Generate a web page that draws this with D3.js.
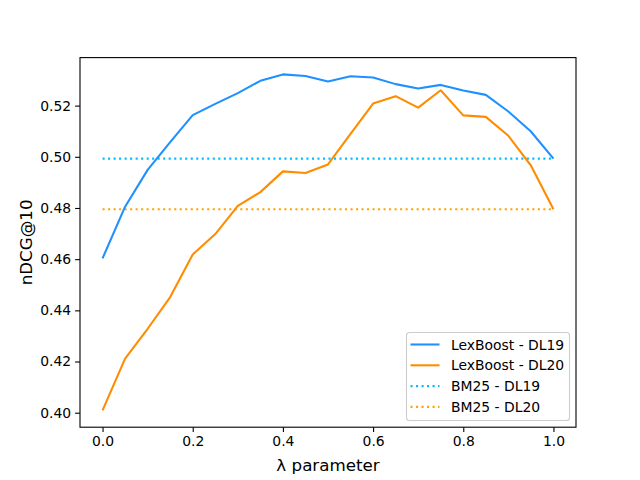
<!DOCTYPE html>
<html>
<head>
<meta charset="utf-8">
<script src="https://cdn.jsdelivr.net/npm/d3@7"></script>
<style>
  body { margin: 0; background: #fff; }
  svg { font-family: "DejaVu Sans", sans-serif; }
</style>
</head>
<body>
<div id="chart"></div>
<script>
const lambdas = [0, 0.05, 0.1, 0.15, 0.2, 0.25, 0.3, 0.35, 0.4, 0.45, 0.5,
                 0.55, 0.6, 0.65, 0.7, 0.75, 0.8, 0.85, 0.9, 0.95, 1.0];
const lexDL19 = [0.4603, 0.4805, 0.4949, 0.5057, 0.5163, 0.5207, 0.5249, 0.5297, 0.5322, 0.5316, 0.5294,
                 0.5315, 0.5310, 0.5284, 0.5267, 0.5281, 0.5259, 0.5242, 0.5177, 0.5099, 0.4993];
const lexDL20 = [0.4009, 0.4211, 0.4328, 0.4452, 0.4618, 0.4698, 0.4808, 0.4862, 0.4943, 0.4937, 0.4970,
                 0.5090, 0.5208, 0.5237, 0.5192, 0.5260, 0.5162, 0.5156, 0.5082, 0.4966, 0.4795];
const bm25DL19 = 0.4993;
const bm25DL20 = 0.4795;
const xTicks = [0, 0.2, 0.4, 0.6, 0.8, 1.0];
const yTicks = [0.40, 0.42, 0.44, 0.46, 0.48, 0.50, 0.52];

const W = 640, H = 480;
const margin = { top: 57.6, right: 64, bottom: 52.8, left: 80 };
const width = W - margin.left - margin.right;
const height = H - margin.top - margin.bottom;
const lw = 2.08;          // 1.5pt
const dots = '2.08,3.43'; // matplotlib ':'

const svg = d3.select('#chart').append('svg')
  .attr('width', W).attr('height', H);
const g = svg.append('g')
  .attr('transform', `translate(${margin.left},${margin.top})`);

// scales with matplotlib-like 5% padding
const xPad = 0.05 * (d3.max(lambdas) - d3.min(lambdas));
const x = d3.scaleLinear()
  .domain([d3.min(lambdas) - xPad, d3.max(lambdas) + xPad])
  .range([0, width]);
const allY = lexDL19.concat(lexDL20);
const yMin = d3.min(allY), yMax = d3.max(allY);
const yPad = 0.05 * (yMax - yMin);
const y = d3.scaleLinear()
  .domain([yMin - yPad, yMax + yPad])
  .range([height, 0]);

// axes
const xAxis = g.append('g')
  .attr('transform', `translate(0,${height})`)
  .call(d3.axisBottom(x).tickValues(xTicks).tickFormat(d3.format('.1f')).tickSizeOuter(0).tickSize(4.9).tickPadding(4));
const yAxis = g.append('g')
  .call(d3.axisLeft(y).tickValues(yTicks).tickFormat(d3.format('.2f')).tickSizeOuter(0).tickSize(4.9).tickPadding(4));
[xAxis, yAxis].forEach(a => {
  a.select('.domain').remove();
  a.selectAll('text').attr('font-size', 13.9).attr('fill', '#000')
    .attr('font-family', '"DejaVu Sans", sans-serif');
  a.selectAll('line').attr('stroke', '#000').attr('stroke-width', 1.1);
});

const line = d3.line().x((d, i) => x(lambdas[i])).y(d => y(d));

// baselines
g.append('line')
  .attr('x1', x(lambdas[0])).attr('x2', x(lambdas[lambdas.length - 1]))
  .attr('y1', y(bm25DL19)).attr('y2', y(bm25DL19))
  .attr('stroke', '#00BFFF').attr('stroke-width', lw).attr('stroke-dasharray', dots);
g.append('line')
  .attr('x1', x(lambdas[0])).attr('x2', x(lambdas[lambdas.length - 1]))
  .attr('y1', y(bm25DL20)).attr('y2', y(bm25DL20))
  .attr('stroke', '#FFA500').attr('stroke-width', lw).attr('stroke-dasharray', dots);

// LexBoost lines
g.append('path').datum(lexDL19).attr('d', line)
  .attr('fill', 'none').attr('stroke', '#1E90FF').attr('stroke-width', lw).attr('stroke-linejoin', 'round');
g.append('path').datum(lexDL20).attr('d', line)
  .attr('fill', 'none').attr('stroke', '#FF8C00').attr('stroke-width', lw).attr('stroke-linejoin', 'round');

// frame
g.append('rect').attr('width', width).attr('height', height)
  .attr('fill', 'none').attr('stroke', '#000').attr('stroke-width', 1.1);

// axis labels
svg.append('text')
  .attr('x', margin.left + width / 2).attr('y', 471)
  .attr('text-anchor', 'middle').attr('font-size', 16.7)
  .text('λ parameter');
svg.append('text')
  .attr('transform', `translate(32,${margin.top + height / 2}) rotate(-90)`)
  .attr('text-anchor', 'middle').attr('font-size', 16.7)
  .text('nDCG@10');

// legend
const legendItems = [
  { label: 'LexBoost - DL19', color: '#1E90FF', dash: null },
  { label: 'LexBoost - DL20', color: '#FF8C00', dash: null },
  { label: 'BM25 - DL19', color: '#00BFFF', dash: dots },
  { label: 'BM25 - DL20', color: '#FFA500', dash: dots }
];
const lg = svg.append('g').attr('transform', 'translate(406.5,332.5)');
lg.append('rect').attr('width', 163).attr('height', 88).attr('rx', 3)
  .attr('fill', '#fff').attr('fill-opacity', 0.8)
  .attr('stroke', '#ccc').attr('stroke-width', 1.1);
legendItems.forEach((d, i) => {
  const cy = 12 + i * 20.8;
  lg.append('line').attr('x1', 4).attr('x2', 33).attr('y1', cy).attr('y2', cy)
    .attr('stroke', d.color).attr('stroke-width', lw)
    .attr('stroke-dasharray', d.dash);
  lg.append('text').attr('x', 44.5).attr('y', cy).attr('dy', '0.36em')
    .attr('font-size', 13.9).text(d.label);
});
</script>
</body>
</html>
